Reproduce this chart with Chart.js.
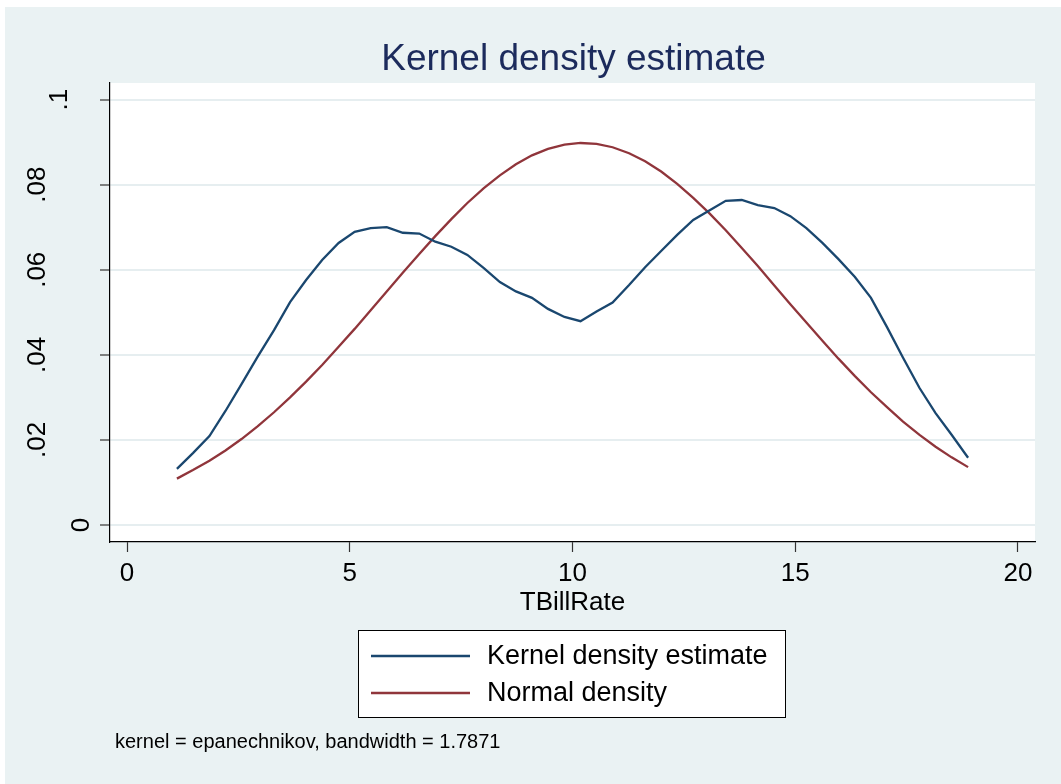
<!DOCTYPE html>
<html>
<head>
<meta charset="utf-8">
<title>Kernel density estimate</title>
<script src="https://cdn.jsdelivr.net/npm/chart.js@4.4.1/dist/chart.umd.min.js"></script>
<style>
    html, body { margin: 0; padding: 0; background: #fff; }
    #kde-chart { display: block; }
</style>
</head>
<body>
<canvas id="kde-chart" width="1061" height="784"></canvas>
<script>
/* global Chart */
(function () {
    'use strict';

    // ─── Data ───────────────────────────────────────────────────

    const xGrid = [
        1.12, 1.48, 1.85, 2.21, 2.57, 2.93, 3.30, 3.66, 4.02, 4.38,
        4.75, 5.11, 5.47, 5.83, 6.19, 6.56, 6.92, 7.28, 7.64, 8.01,
        8.37, 8.73, 9.09, 9.45, 9.82, 10.18, 10.54, 10.90, 11.27, 11.63,
        11.99, 12.35, 12.71, 13.08, 13.44, 13.80, 14.16, 14.53, 14.89, 15.25,
        15.61, 15.97, 16.34, 16.70, 17.06, 17.42, 17.79, 18.15, 18.51, 18.88
    ];

    const kernelDensity = [
        0.0132, 0.0169, 0.0209, 0.0268, 0.0331, 0.0395, 0.0458, 0.0524, 0.0576, 0.0623,
        0.0663, 0.0689, 0.0698, 0.0700, 0.0687, 0.0685, 0.0666, 0.0654, 0.0635, 0.0604,
        0.0571, 0.0549, 0.0534, 0.0508, 0.0489, 0.0479, 0.0502, 0.0523, 0.0564, 0.0606,
        0.0644, 0.0682, 0.0717, 0.0740, 0.0762, 0.0764, 0.0752, 0.0745, 0.0726, 0.0698,
        0.0663, 0.0625, 0.0583, 0.0534, 0.0465, 0.0393, 0.0322, 0.0263, 0.0212, 0.0158
    ];

    const normalDensity = [
        0.0109, 0.0129, 0.0151, 0.0175, 0.0202, 0.0232, 0.0265, 0.0300, 0.0337, 0.0376,
        0.0419, 0.0461, 0.0505, 0.0549, 0.0593, 0.0637, 0.0679, 0.0719, 0.0757, 0.0792,
        0.0822, 0.0848, 0.0869, 0.0884, 0.0894, 0.0898, 0.0896, 0.0888, 0.0874, 0.0855,
        0.0831, 0.0802, 0.0769, 0.0732, 0.0693, 0.0651, 0.0609, 0.0563, 0.0519, 0.0476,
        0.0433, 0.0391, 0.0350, 0.0312, 0.0277, 0.0243, 0.0212, 0.0184, 0.0159, 0.0136
    ];

    const xTicks = [0, 5, 10, 15, 20];
    const yTicks = [0, 0.02, 0.04, 0.06, 0.08, 0.1];
    const yTickLabels = ['0', '.02', '.04', '.06', '.08', '.1'];

    const seriesLabels = ['Kernel density estimate', 'Normal density'];
    const titleText = 'Kernel density estimate';
    const xTitleText = 'TBillRate';
    const noteText = 'kernel = epanechnikov, bandwidth = 1.7871';

    // ─── Style ──────────────────────────────────────────────────

    const FONT = '"Liberation Sans", Arial, Helvetica, sans-serif';
    const BG = '#eaf2f3';
    const GRID = '#e6eef0';
    const NAVY = '#1a476f';
    const MAROON = '#90353b';
    const TITLE = '#1c2b5c';

    // ─── Helpers ────────────────────────────────────────────────

    function toPoints(values) {
        return xGrid.map(function (x, i) { return { x: x, y: values[i] }; });
    }

    function fixedTicks(values) {
        return function (scale) {
            scale.ticks = values.map(function (v) { return { value: v }; });
        };
    }

    // ─── Plugin: backgrounds, texts, legend ─────────────────────

    const stataFrame = {
        id: 'stataFrame',
        beforeDraw(chart) {
            const ctx = chart.ctx;
            const a = chart.chartArea;
            ctx.save();
            ctx.fillStyle = '#fff';
            ctx.fillRect(0, 0, chart.width, chart.height);
            ctx.fillStyle = BG;
            ctx.fillRect(5, 7, chart.width - 5, chart.height - 7);
            ctx.fillStyle = '#fff';
            ctx.fillRect(a.left, a.top, a.right - a.left, a.bottom - a.top);
            ctx.restore();
        },
        afterDraw(chart) {
            const ctx = chart.ctx;
            const a = chart.chartArea;
            const cx = (a.left + a.right) / 2;
            const yScale = chart.scales.y;

            ctx.save();

            // Title
            ctx.fillStyle = TITLE;
            ctx.font = '37px ' + FONT;
            ctx.textAlign = 'center';
            ctx.textBaseline = 'alphabetic';
            ctx.fillText(titleText, cx + 1, 70);

            // Y tick labels (vertical, Stata style)
            ctx.fillStyle = '#000';
            ctx.font = '26px ' + FONT;
            yScale.ticks.forEach(function (t, i) {
                const label = yTickLabels[i];
                const py = yScale.getPixelForValue(t.value);
                const bx = a.left + 1 - 22 * label.length;
                ctx.save();
                ctx.translate(bx, py);
                ctx.rotate(-Math.PI / 2);
                ctx.textAlign = 'center';
                ctx.textBaseline = 'alphabetic';
                ctx.fillText(label, 0, 0);
                ctx.restore();
            });

            // X axis title
            ctx.textAlign = 'center';
            ctx.fillText(xTitleText, cx, 610);

            // Legend
            const lx = 358, ly = 630, lw = 427, lh = 87;
            ctx.fillStyle = '#fff';
            ctx.fillRect(lx, ly, lw, lh);
            ctx.strokeStyle = '#000';
            ctx.lineWidth = 1;
            ctx.strokeRect(lx + 0.5, ly + 0.5, lw, lh);
            chart.data.datasets.forEach(function (ds, i) {
                const y = 656 + i * 37;
                ctx.strokeStyle = ds.borderColor;
                ctx.lineWidth = 2.5;
                ctx.beginPath();
                ctx.moveTo(371, y);
                ctx.lineTo(470, y);
                ctx.stroke();
                ctx.fillStyle = '#000';
                ctx.font = '27px ' + FONT;
                ctx.textAlign = 'left';
                ctx.textBaseline = 'middle';
                ctx.fillText(ds.label, 487, y + 1);
            });

            // Note
            ctx.font = '20px ' + FONT;
            ctx.textAlign = 'left';
            ctx.textBaseline = 'middle';
            ctx.fillText(noteText, 115, 742);

            ctx.restore();
        }
    };

    // ─── Chart ──────────────────────────────────────────────────

    const ctx = document.getElementById('kde-chart');

    new Chart(ctx, {
        type: 'line',
        data: {
            datasets: [{
                label: seriesLabels[0],
                data: toPoints(kernelDensity),
                borderColor: NAVY,
                borderWidth: 2.3,
                pointRadius: 0,
                tension: 0,
                fill: false,
            }, {
                label: seriesLabels[1],
                data: toPoints(normalDensity),
                borderColor: MAROON,
                borderWidth: 2.3,
                pointRadius: 0,
                tension: 0,
                fill: false,
            }],
        },
        options: {
            responsive: false,
            animation: false,
            devicePixelRatio: 1,
            layout: { padding: { top: 83, right: 26, bottom: 0, left: 0 } },
            plugins: {
                legend: { display: false },
                title: { display: false },
                tooltip: { enabled: false },
            },
            scales: {
                x: {
                    type: 'linear',
                    min: -0.382,
                    max: 20.382,
                    afterBuildTicks: fixedTicks(xTicks),
                    afterFit(scale) { scale.height = 242; },
                    border: { display: true, color: '#000', width: 1.2 },
                    grid: {
                        drawOnChartArea: false,
                        drawTicks: true,
                        tickLength: 10,
                        tickColor: '#333',
                        tickWidth: 1.2,
                    },
                    ticks: {
                        color: '#000',
                        font: { family: FONT, size: 26 },
                        padding: 6,
                        maxRotation: 0,
                        autoSkip: false,
                        callback: function (v) { return String(v); },
                    },
                },
                y: {
                    type: 'linear',
                    min: -0.004,
                    max: 0.1039,
                    afterBuildTicks: fixedTicks(yTicks),
                    afterFit(scale) { scale.width = 110; },
                    border: { display: true, color: '#000', width: 1.2 },
                    grid: {
                        color: GRID,
                        lineWidth: 2,
                        drawTicks: true,
                        tickLength: 10,
                        tickColor: '#333',
                        tickWidth: 1.2,
                    },
                    ticks: { display: false },
                },
            },
        },
        plugins: [stataFrame],
    });
})();
</script>
</body>
</html>
